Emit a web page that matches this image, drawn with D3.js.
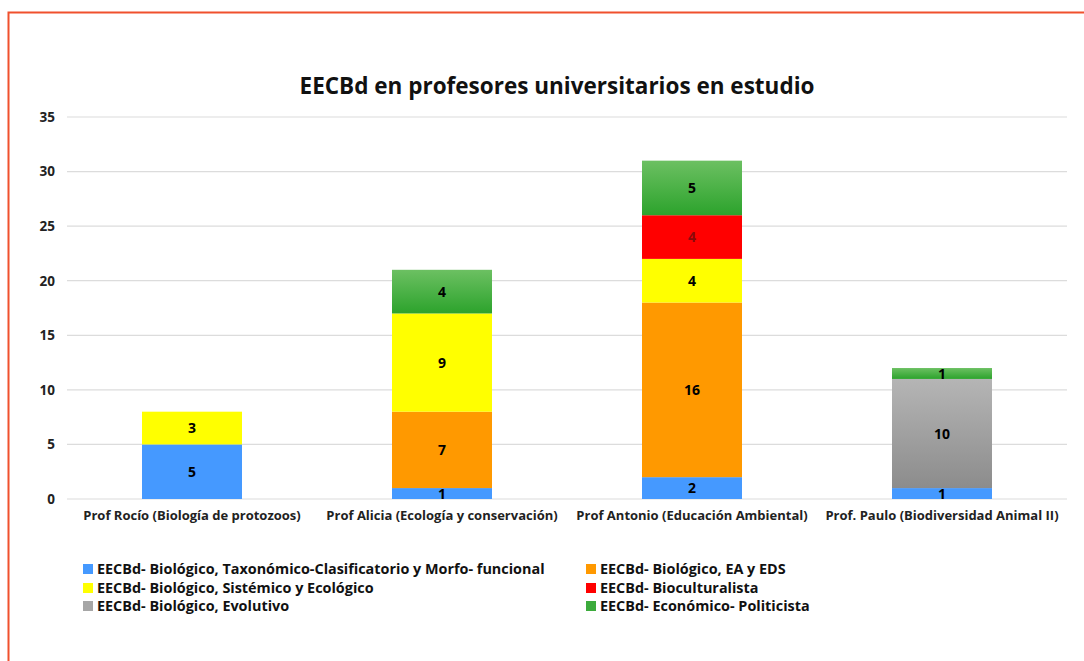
<!DOCTYPE html>
<html><head><meta charset="utf-8">
<script src="https://cdn.jsdelivr.net/npm/d3@7"></script>
<style>
body{margin:0;background:#fff;}
svg{display:block;font-family:"Open Sans","Noto Sans",sans-serif;}
</style></head>
<body>
<svg id="c" width="1084" height="661"></svg>
<script>
const categories = ["Prof Rocío (Biología de protozoos)","Prof Alicia (Ecología y conservación)","Prof Antonio (Educación Ambiental)","Prof. Paulo (Biodiversidad Animal II)"];
const seriesNames = ["EECBd- Biológico, Taxonómico-Clasificatorio y Morfo- funcional","EECBd- Biológico, EA y EDS","EECBd- Biológico, Sistémico y Ecológico","EECBd- Bioculturalista","EECBd- Biológico, Evolutivo","EECBd- Económico- Politicista"];
const taxonomico = [5,1,2,1];
const eaEds = [0,7,16,0];
const sistemico = [3,9,4,0];
const bioculturalista = [0,0,4,0];
const evolutivo = [0,0,0,10];
const economico = [0,4,5,1];
const yTicks = [0,5,10,15,20,25,30,35];
const seriesValues = [taxonomico, eaEds, sistemico, bioculturalista, evolutivo, economico];
// stacking order bottom to top
const stackOrder = [0,1,4,2,3,5];

const svg = d3.select("#c");
const defs = svg.append("defs");
const gGreen = defs.append("linearGradient").attr("id","gGreen").attr("x1",0).attr("y1",0).attr("x2",0).attr("y2",1);
gGreen.append("stop").attr("offset","0%").attr("stop-color","#6cc062");
gGreen.append("stop").attr("offset","100%").attr("stop-color","#2ca32c");
const gGray = defs.append("linearGradient").attr("id","gGray").attr("x1",0).attr("y1",0).attr("x2",0).attr("y2",1);
gGray.append("stop").attr("offset","0%").attr("stop-color","#b5b5b5");
gGray.append("stop").attr("offset","100%").attr("stop-color","#8c8c8c");

const fills = ["#4599ff","#ff9900","#ffff00","#ff0000","url(#gGray)","url(#gGreen)"];
const legendFills = ["#4599ff","#ff9900","#ffff00","#ff0000","#a6a6a6","#3cab3c"];
const labelColors = ["#000","#000","#000","#8a0a0a","#000","#000"];

// border
svg.append("path").attr("d","M8.5,661 L8.5,12.5 L1084,12.5").attr("fill","none").attr("stroke","#f0502d").attr("stroke-width",2);

const x = d3.scaleBand().domain(categories).range([67,1067]).paddingInner(0.6).paddingOuter(0.3);
const y = d3.scaleLinear().domain([0,35]).range([499,117]);

// gridlines
svg.append("g").selectAll("line").data(yTicks).join("line")
  .attr("x1",67).attr("x2",1067).attr("y1",d=>y(d)).attr("y2",d=>y(d))
  .attr("stroke","#dcdcdc").attr("stroke-width",1.2);

// y axis labels
const yAxis = d3.axisLeft(y).tickValues(yTicks).tickSize(0).tickPadding(12);
const ya = svg.append("g").attr("transform","translate(67,0)").call(yAxis);
ya.select(".domain").remove();
ya.selectAll("text").attr("font-size",13.5).attr("font-weight","bold").attr("fill","#222").attr("font-family","'Open Sans',sans-serif");

// x axis labels
const xAxis = d3.axisBottom(x).tickSize(0).tickPadding(12);
const xa = svg.append("g").attr("transform","translate(0,499)").call(xAxis);
xa.select(".domain").remove();
xa.selectAll("text").attr("font-size",13).attr("font-weight","bold").attr("fill","#222").attr("font-family","'Open Sans',sans-serif");

// stacked bars
categories.forEach((cat,ci)=>{
  let base = 0;
  stackOrder.forEach(si=>{
    const v = seriesValues[si][ci];
    if(!v) return;
    const y0 = y(base), y1 = y(base+v);
    svg.append("rect").attr("x",x(cat)).attr("width",x.bandwidth())
      .attr("y",y1).attr("height",y0-y1).attr("fill",fills[si]);
    svg.append("text").attr("x",x(cat)+x.bandwidth()/2).attr("y",(y0+y1)/2)
      .attr("dy","0.36em").attr("text-anchor","middle")
      .attr("font-size",14).attr("font-weight","bold").attr("fill",labelColors[si])
      .text(v);
    base += v;
  });
});

// title
svg.append("text").attr("x",557).attr("y",94).attr("text-anchor","middle")
  .attr("font-size",22.5).attr("font-weight","bold").attr("fill","#111")
  .text("EECBd en profesores universitarios en estudio");

// legend
const legendPos = [[83,569],[586,569],[83,588],[586,588],[83,606],[586,606]];
seriesNames.forEach((n,i)=>{
  const [lx,ly] = legendPos[i];
  svg.append("rect").attr("x",lx).attr("y",ly-5).attr("width",10).attr("height",10).attr("fill",legendFills[i]);
  svg.append("text").attr("x",lx+14).attr("y",ly).attr("dy","0.36em")
    .attr("font-size",14.4).attr("font-weight","bold").attr("fill","#111").text(n);
});
</script>
</body></html>
